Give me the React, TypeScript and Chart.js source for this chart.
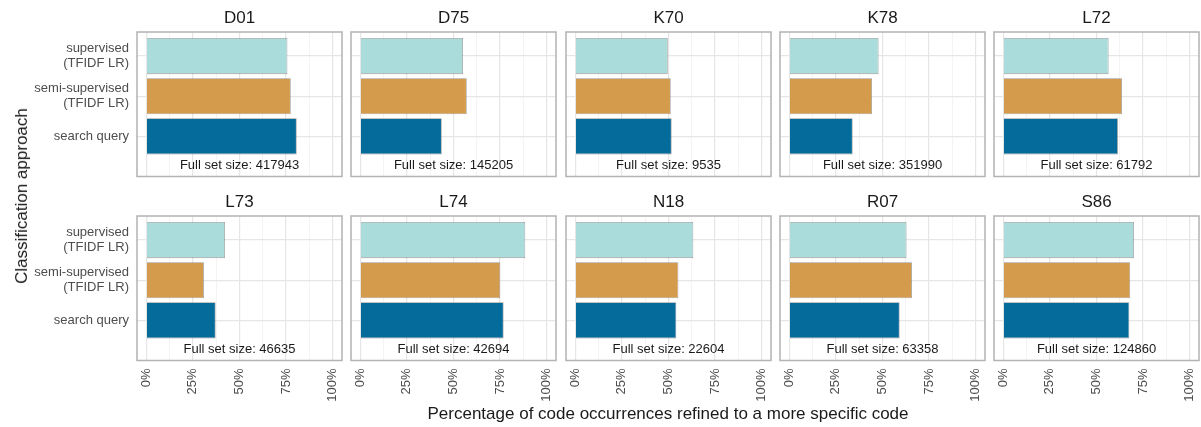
import React, { useEffect, useRef } from 'react';
import { Chart, registerables } from 'chart.js';

Chart.register(...registerables);

// ---- data ----
const panelCodes = ['D01', 'D75', 'K70', 'K78', 'L72', 'L73', 'L74', 'N18', 'R07', 'S86'];
const fullSetSizes = [417943, 145205, 9535, 351990, 61792, 46635, 42694, 22604, 63358, 124860];
const supervised = [75.7, 55.1, 49.6, 47.9, 56.5, 42.2, 88.5, 63.3, 62.9, 70.1];
const semiSupervised = [77.5, 57.1, 51.2, 44.4, 63.7, 30.9, 75.1, 55.3, 65.8, 68.1];
const searchQuery = [80.7, 43.7, 51.7, 34.0, 61.5, 37.2, 76.9, 54.2, 59.2, 67.6];
// approach levels, bottom (1) to top (3)
const approachLabels = [['search query'], ['semi-supervised', '(TFIDF LR)'], ['supervised', '(TFIDF LR)']];
const approachColors = ['#046b9b', '#d49b4c', '#aadcdc'];
const xTickValues = [0, 12.5, 25, 37.5, 50, 62.5, 75, 87.5, 100];
const xMajorTicks = [0, 25, 50, 75, 100];
const xTitle = 'Percentage of code occurrences refined to a more specific code';
const yTitle = 'Classification approach';

// ---- layout ----
const FONT = "'Liberation Sans', Arial, Helvetica, sans-serif";
const BOX_LEFT0 = 137;
const BOX_STEP = 214.25;
const BOX_W = 205;
const AREA_TOP = 32;
const AREA_H = 144.5;
const ROW_STEP = 184;
const LABEL_Y = 0.28;

function Panel({ index }: { index: number }) {
  const ref = useRef<HTMLCanvasElement | null>(null);
  const row = Math.floor(index / 5);
  const col = index % 5;
  const boxLeft = Math.round(BOX_LEFT0 + col * BOX_STEP);
  const canvasLeft = col === 0 ? 0 : boxLeft - 4;
  const yAxisW = boxLeft - canvasLeft;
  const padR = 4;
  const width = boxLeft + BOX_W + padR - canvasLeft;
  const height = row === 0 ? 180 : 222;
  const xAxisH = height - AREA_TOP - AREA_H;
  const top = row * ROW_STEP;
  const showY = col === 0;
  const showX = row === 1;

  useEffect(() => {
    if (!ref.current) return;
    const values = [searchQuery[index], semiSupervised[index], supervised[index]];
    const deco = {
      id: 'deco' + index,
      afterDatasetsDraw(chart: any) {
        const { ctx, chartArea: a, scales } = chart;
        ctx.save();
        ctx.font = `13px ${FONT}`;
        ctx.fillStyle = '#1a1a1a';
        ctx.textAlign = 'center';
        ctx.textBaseline = 'middle';
        ctx.fillText(
          `Full set size: ${fullSetSizes[index]}`,
          scales.x.getPixelForValue(50),
          scales.y.getPixelForValue(LABEL_Y)
        );
        ctx.strokeStyle = '#b3b3b3';
        ctx.lineWidth = 1.5;
        ctx.strokeRect(a.left, a.top, a.right - a.left, a.bottom - a.top);
        ctx.restore();
      },
    };
    const chart = new Chart(ref.current, {
      type: 'bar',
      data: {
        datasets: [
          {
            data: values.map((v, i) => ({ x: v, y: i + 1 })),
            backgroundColor: approachColors,
            borderColor: 'rgba(70,70,70,0.55)',
            borderWidth: 0.8,
            barPercentage: 0.9,
            categoryPercentage: 1,
          },
        ],
      },
      options: {
        indexAxis: 'y',
        animation: false,
        responsive: false,
        maintainAspectRatio: false,
        events: [],
        layout: { padding: { left: 0, right: padR, top: 0, bottom: 0 } },
        plugins: {
          legend: { display: false },
          tooltip: { enabled: false },
          title: {
            display: true,
            fullSize: false,
            text: panelCodes[index],
            color: '#1a1a1a',
            font: { family: FONT, size: 17, lineHeight: 1.2, weight: 'normal' },
            padding: { top: 8, bottom: 3.6 },
          },
        },
        scales: {
          x: {
            type: 'linear',
            min: -5,
            max: 105,
            afterBuildTicks: (s: any) => {
              s.ticks = xTickValues.map((v) => ({ value: v }));
            },
            afterFit: (s: any) => {
              s.height = xAxisH;
              s.paddingLeft = 0;
              s.paddingRight = 0;
              s.paddingTop = 0;
              s.paddingBottom = 0;
            },
            border: { display: false },
            grid: {
              drawTicks: false,
              color: (c: any) => (xMajorTicks.includes(c.tick?.value) ? '#e6e6e6' : '#f1f1f1'),
              lineWidth: (c: any) => (xMajorTicks.includes(c.tick?.value) ? 1.2 : 0.8),
            },
            ticks: {
              display: showX,
              autoSkip: false,
              minRotation: 90,
              maxRotation: 90,
              padding: 8,
              color: '#4d4d4d',
              font: { family: FONT, size: 13 },
              callback: (v: any) => (xMajorTicks.includes(v) ? `${v}%` : ''),
            },
          },
          y: {
            type: 'linear',
            min: 0,
            max: 3.6,
            offset: false,
            afterBuildTicks: (s: any) => {
              s.ticks = approachLabels.map((_, i) => ({ value: i + 1 }));
            },
            afterFit: (s: any) => {
              s.width = yAxisW;
              s.paddingLeft = 0;
              s.paddingRight = 0;
              s.paddingTop = 0;
              s.paddingBottom = 0;
            },
            border: { display: false },
            grid: { offset: false, drawTicks: false, color: '#e6e6e6', lineWidth: 1.2 },
            ticks: {
              display: showY,
              padding: 8,
              color: '#4d4d4d',
              font: { family: FONT, size: 13, lineHeight: 1.15 },
              callback: (v: any) => approachLabels[Math.round(v) - 1] ?? '',
            },
          },
        },
      },
      plugins: [deco],
    } as any);
    return () => chart.destroy();
  }, [index]);

  return (
    <canvas
      ref={ref}
      width={width}
      height={height}
      style={{ position: 'absolute', left: canvasLeft, top, width, height }}
    />
  );
}

export default function App() {
  return (
    <div
      style={{
        position: 'absolute',
        left: 0,
        top: 0,
        width: 1201,
        height: 427,
        background: '#ffffff',
        overflow: 'hidden',
        fontFamily: FONT,
      }}
    >
      {panelCodes.map((_, i) => (
        <Panel key={i} index={i} />
      ))}
      <div
        style={{
          position: 'absolute',
          left: 137,
          width: 1062,
          top: 404,
          height: 20,
          lineHeight: '20px',
          fontSize: 17,
          textAlign: 'center',
          color: '#1a1a1a',
          whiteSpace: 'nowrap',
        }}
      >
        {xTitle}
      </div>
      <div
        style={{
          position: 'absolute',
          left: 22,
          top: 196,
          fontSize: 17,
          lineHeight: '20px',
          color: '#1a1a1a',
          whiteSpace: 'nowrap',
          transform: 'translate(-50%, -50%) rotate(-90deg)',
        }}
      >
        {yTitle}
      </div>
    </div>
  );
}
